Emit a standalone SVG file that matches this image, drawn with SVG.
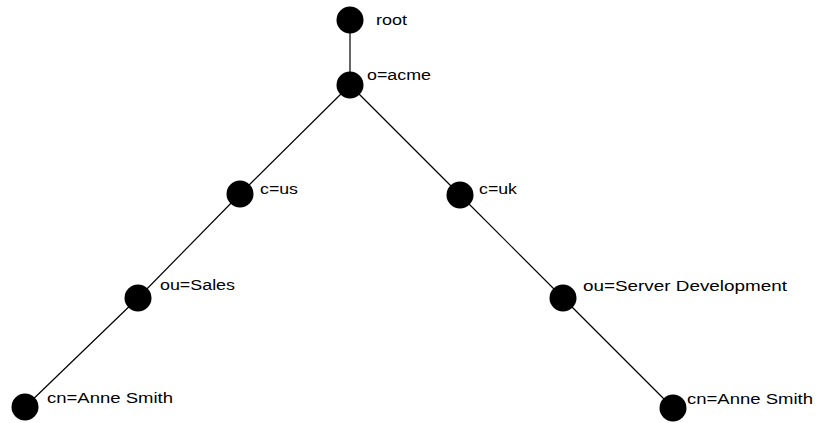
<svg xmlns="http://www.w3.org/2000/svg" width="816" height="423" viewBox="0 0 816 423">
  <style>
    .edge { stroke: #000; stroke-width: 1.2; fill: none; }
    .dot { fill: #000; }
    .lbl { font-family: "Liberation Sans", Arial, sans-serif; font-size: 14px; fill: #000; }
  </style>
  <rect width="816" height="423" fill="#fff"/>
  <g id="connectors">
    <line class="edge" x1="350" y1="20" x2="350" y2="85"/>
    <line class="edge" x1="350" y1="85" x2="240" y2="194"/>
    <line class="edge" x1="350" y1="85" x2="460" y2="195"/>
    <line class="edge" x1="240" y1="194" x2="138" y2="298"/>
    <line class="edge" x1="138" y1="298" x2="25" y2="407"/>
    <line class="edge" x1="460" y1="195" x2="563" y2="298"/>
    <line class="edge" x1="563" y1="298" x2="673" y2="408"/>
  </g>
  <g id="root">
    <circle class="dot" cx="350" cy="20" r="13.5"/>
    <text class="lbl" x="376" y="25" textLength="31" lengthAdjust="spacingAndGlyphs">root</text>
  </g>
  <g id="o-acme">
    <circle class="dot" cx="350" cy="85" r="13.5"/>
    <text class="lbl" x="367" y="80" textLength="64" lengthAdjust="spacingAndGlyphs">o=acme</text>
  </g>
  <g id="c-us">
    <circle class="dot" cx="240" cy="194" r="13.5"/>
    <text class="lbl" x="260" y="194" textLength="38" lengthAdjust="spacingAndGlyphs">c=us</text>
  </g>
  <g id="c-uk">
    <circle class="dot" cx="460" cy="195" r="13.5"/>
    <text class="lbl" x="479" y="194" textLength="38" lengthAdjust="spacingAndGlyphs">c=uk</text>
  </g>
  <g id="ou-sales">
    <circle class="dot" cx="138" cy="298" r="13.5"/>
    <text class="lbl" x="160" y="290" textLength="75" lengthAdjust="spacingAndGlyphs">ou=Sales</text>
  </g>
  <g id="cn-anne-smith-us">
    <circle class="dot" cx="25" cy="407" r="13.5"/>
    <text class="lbl" x="47" y="403" textLength="126" lengthAdjust="spacingAndGlyphs">cn=Anne  Smith</text>
  </g>
  <g id="ou-server-development">
    <circle class="dot" cx="563" cy="298" r="13.5"/>
    <text class="lbl" x="583" y="291" textLength="204" lengthAdjust="spacingAndGlyphs">ou=Server  Development</text>
  </g>
  <g id="cn-anne-smith-uk">
    <circle class="dot" cx="673" cy="408" r="13.5"/>
    <text class="lbl" x="687" y="404" textLength="126" lengthAdjust="spacingAndGlyphs">cn=Anne  Smith</text>
  </g>
</svg>
